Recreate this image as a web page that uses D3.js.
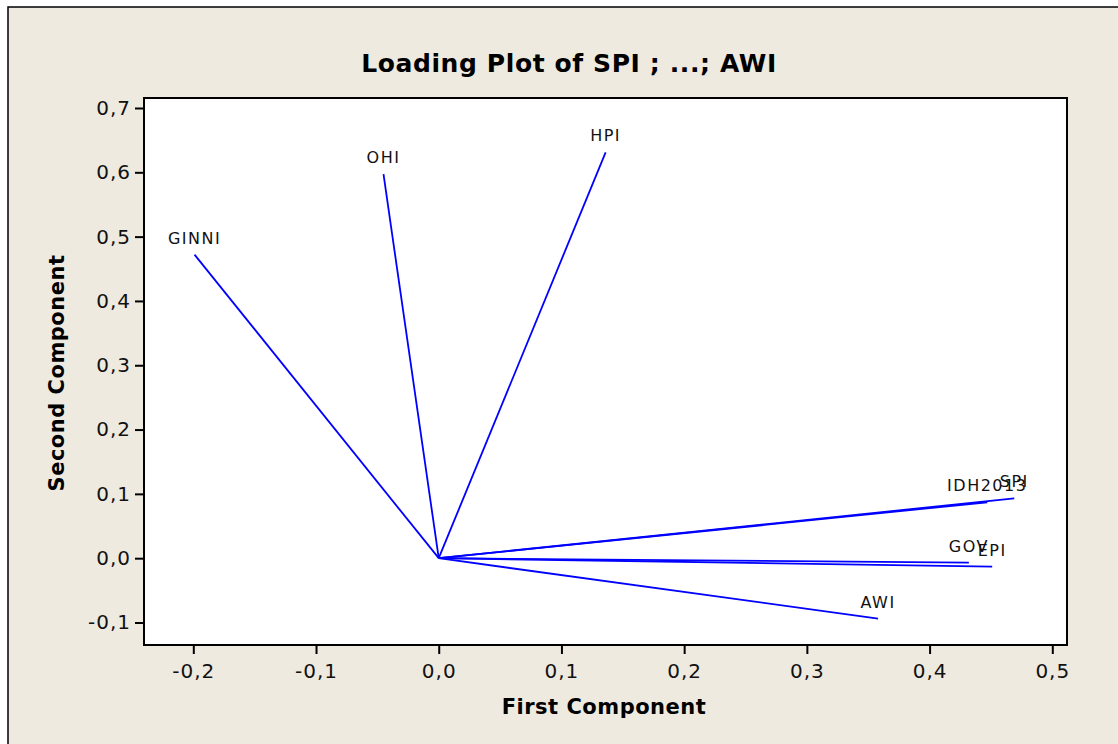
<!DOCTYPE html>
<html lang="en">
<head>
<meta charset="UTF-8">
<title>Loading Plot</title>
<style>
  body { margin: 0; background: #fff; }
  svg text { font-family: "DejaVu Sans", Verdana, sans-serif; }
</style>
</head>
<body>
<script src="https://cdnjs.cloudflare.com/ajax/libs/d3/7.8.5/d3.min.js"></script>
<script>
// loadings
const variables = ['GINNI', 'OHI', 'HPI', 'SPI', 'IDH2013', 'GOV', 'EPI', 'AWI'];
const firstComp = [-0.199, -0.045, 0.136, 0.469, 0.447, 0.432, 0.451, 0.358];
const secondComp = [0.472, 0.597, 0.631, 0.093, 0.087, -0.007, -0.013, -0.094];

const xTicks = [-0.2, -0.1, 0.0, 0.1, 0.2, 0.3, 0.4, 0.5];
const yTicks = [-0.1, 0.0, 0.1, 0.2, 0.3, 0.4, 0.5, 0.6, 0.7];

const W = 1118, H = 744;
const plot = {left: 144, top: 98, right: 1067, bottom: 645};

const svg = d3.select('body').append('svg')
    .attr('width', W).attr('height', H);

// figure background with border (runs off the right / bottom edge)
svg.append('rect')
    .attr('x', 8).attr('y', 7)
    .attr('width', W + 20).attr('height', H + 20)
    .attr('fill', '#eeeae0')
    .attr('stroke', '#000').attr('stroke-width', 1.5);

const x = d3.scaleLinear().domain([-0.2, 0.5]).range([193.3, 1052.3]);
const y = d3.scaleLinear().domain([-0.1, 0.7]).range([622.5, 108]);

svg.append('rect')
    .attr('x', plot.left).attr('y', plot.top)
    .attr('width', plot.right - plot.left).attr('height', plot.bottom - plot.top)
    .attr('fill', '#fff')
    .attr('stroke', '#000').attr('stroke-width', 2);

const fmt = d => d3.format('.1f')(d).replace('.', ',').replace('−', '-');

const xAxis = svg.append('g')
    .attr('transform', `translate(0,${plot.bottom})`)
    .call(d3.axisBottom(x).tickValues(xTicks).tickFormat(fmt).tickSize(9).tickPadding(10));
const yAxis = svg.append('g')
    .attr('transform', `translate(${plot.left},0)`)
    .call(d3.axisLeft(y).tickValues(yTicks).tickFormat(fmt).tickSize(9).tickPadding(4));

[xAxis, yAxis].forEach(a => {
    a.select('.domain').remove();
    a.selectAll('.tick line').attr('stroke', '#000').attr('stroke-width', 2);
    a.selectAll('.tick text')
        .attr('fill', '#111')
        .style('font-size', '20px')
        .style('letter-spacing', '1px');
});

// loading vectors
const loadings = variables.map((v, i) => ({name: v, pc1: firstComp[i], pc2: secondComp[i]}));

svg.append('g').selectAll('line').data(loadings).enter().append('line')
    .attr('x1', x(0)).attr('y1', y(0))
    .attr('x2', d => x(d.pc1)).attr('y2', d => y(d.pc2))
    .attr('stroke', '#0000ff').attr('stroke-width', 1.8);

svg.append('g').selectAll('text').data(loadings).enter().append('text')
    .attr('x', d => x(d.pc1))
    .attr('y', d => y(d.pc2) - 11)
    .attr('text-anchor', 'middle')
    .style('font-size', '16px')
    .style('letter-spacing', '1.5px')
    .attr('fill', '#111')
    .text(d => d.name);

// titles
svg.append('text')
    .attr('x', 569).attr('y', 72)
    .attr('text-anchor', 'middle')
    .style('font-size', '25px').style('font-weight', 'bold')
    .style('letter-spacing', '0.6px')
    .text('Loading Plot of SPI ; ...; AWI');

svg.append('text')
    .attr('x', 604).attr('y', 714)
    .attr('text-anchor', 'middle')
    .style('font-size', '21px').style('font-weight', 'bold')
    .style('letter-spacing', '0.5px')
    .text('First Component');

svg.append('text')
    .attr('transform', 'translate(64,373) rotate(-90)')
    .attr('text-anchor', 'middle')
    .style('font-size', '21px').style('font-weight', 'bold')
    .style('letter-spacing', '0.5px')
    .text('Second Component');
</script>
</body>
</html>
